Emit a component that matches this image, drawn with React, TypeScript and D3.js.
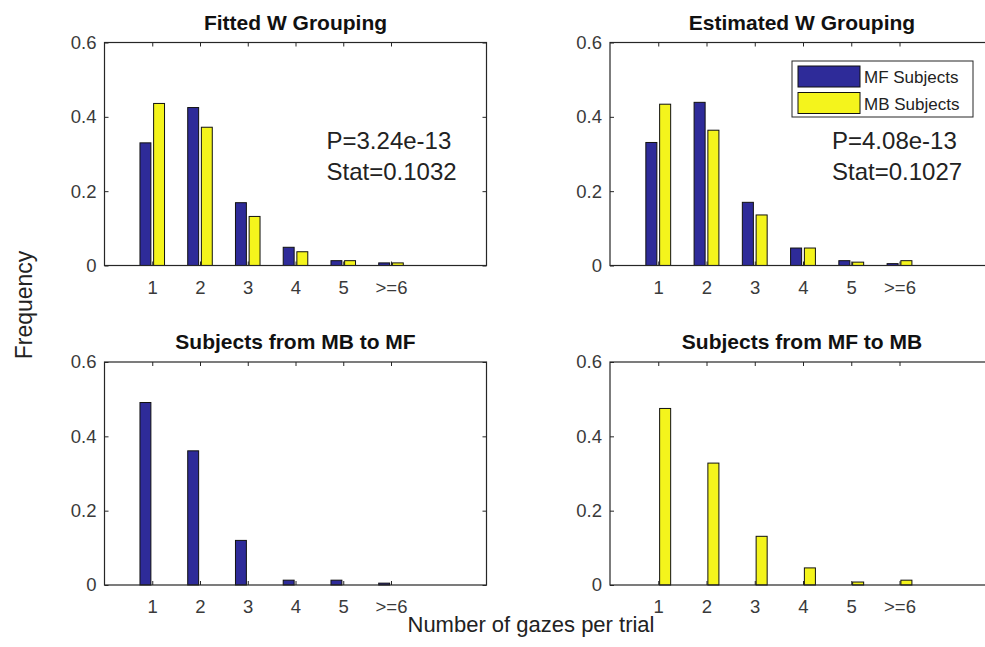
import React, { useEffect, useRef } from 'react'
import * as d3 from 'd3'

// gaze counts per trial
const categories = ['1', '2', '3', '4', '5', '>=6']
const seriesNames = ['MF Subjects', 'MB Subjects']
const yTicks = [0, 0.2, 0.4, 0.6]

const fittedMF = [0.330, 0.425, 0.169, 0.049, 0.013, 0.007]
const fittedMB = [0.436, 0.372, 0.132, 0.037, 0.013, 0.007]
const estimatedMF = [0.331, 0.439, 0.170, 0.047, 0.013, 0.005]
const estimatedMB = [0.434, 0.364, 0.136, 0.047, 0.009, 0.013]
const mbToMF = [0.491, 0.361, 0.120, 0.013, 0.013, 0.005]
const mbToMFOther = [0, 0, 0, 0, 0, 0]
const mfToMBOther = [0, 0, 0, 0, 0, 0]
const mfToMB = [0.475, 0.328, 0.131, 0.046, 0.008, 0.013]

const titles = ['Fitted W Grouping', 'Estimated W Grouping', 'Subjects from MB to MF', 'Subjects from MF to MB']
const stats = [['P=3.24e-13', 'Stat=0.1032'], ['P=4.08e-13', 'Stat=0.1027'], null, null]

const colors = ['#2e2b99', '#f4f41c']
const axisColor = '#262626'
const font = '"Liberation Sans", Arial, sans-serif'

export default function App() {
  const ref = useRef<SVGSVGElement>(null)

  useEffect(() => {
    const svg = d3.select(ref.current)
    svg.selectAll('*').remove()

    // right column runs off the picture edge
    const widths = [382, 386]
    const height = 223
    const lefts = [104.5, 610]
    const tops = [42.5, 362]
    const panelData = [
      [fittedMF, fittedMB],
      [estimatedMF, estimatedMB],
      [mbToMF, mbToMFOther],
      [mfToMBOther, mfToMB],
    ]

    const y = d3.scaleLinear().domain([0, 0.6]).range([height, 0])
    // offsets of the two bars within a group, in data units
    const inner = d3.scaleBand<string>().domain(seriesNames).range([-0.2857, 0.2857])
      .paddingInner(0.2).paddingOuter(0.1)

    panelData.forEach((series, p) => {
      const width = widths[p % 2]
      const x = d3.scaleLinear().domain([0, 8]).range([0, width])
      const g = svg.append('g')
        .attr('transform', `translate(${lefts[p % 2]},${tops[Math.floor(p / 2)]})`)

      series.forEach((values, s) => {
        g.append('g')
          .selectAll('rect')
          .data(values)
          .enter()
          .append('rect')
            .attr('x', (d, i) => x(i + 1 + (inner(seriesNames[s]) as number)))
            .attr('width', x(inner.bandwidth()) - x(0))
            .attr('y', d => y(d))
            .attr('height', d => height - y(d))
            .style('fill', colors[s])
            .style('stroke', '#111')
            .style('stroke-width', 1)
      })

      const tickIdx = categories.map((c, i) => i + 1)

      const bottom = g.append('g')
        .attr('transform', `translate(0,${height})`)
        .call(d3.axisBottom(x).tickValues(tickIdx).tickFormat(i => categories[+i - 1])
          .tickSizeInner(-4).tickSizeOuter(0).tickPadding(15))
      const top = g.append('g')
        .call(d3.axisTop(x).tickValues(tickIdx).tickFormat(() => '')
          .tickSizeInner(-4).tickSizeOuter(0))
      const left = g.append('g')
        .call(d3.axisLeft(y).tickValues(yTicks).tickFormat(d => d === 0 ? '0' : d3.format('.1f')(d as number))
          .tickSizeInner(-4).tickSizeOuter(0).tickPadding(8))
      const right = g.append('g')
        .attr('transform', `translate(${width},0)`)
        .call(d3.axisRight(y).tickValues(yTicks).tickFormat(() => '')
          .tickSizeInner(-4).tickSizeOuter(0))

      ;[bottom, top, left, right].forEach(a => {
        a.select('.domain').remove()
        a.selectAll('line').attr('stroke', axisColor)
        a.selectAll('text')
          .attr('fill', '#3a3a3a')
          .style('font-family', font)
          .style('font-size', '18.5px')
      })

      g.append('rect')
        .attr('width', width)
        .attr('height', height)
        .style('fill', 'none')
        .style('stroke', axisColor)
        .style('stroke-width', 1.2)

      g.append('text')
        .attr('x', p % 2 ? 192 : width / 2)
        .attr('y', -13)
        .attr('text-anchor', 'middle')
        .style('font-family', font)
        .style('font-weight', 'bold')
        .style('font-size', '21px')
        .style('fill', '#111')
        .text(titles[p])

      const st = stats[p]
      if (st) {
        st.forEach((line, k) => {
          g.append('text')
            .attr('x', 222)
            .attr('y', 106 + k * 31)
            .style('font-family', font)
            .style('font-size', '24px')
            .style('fill', '#222')
            .text(line)
        })
      }

      if (p === 1) {
        const lg = g.append('g').attr('transform', 'translate(182,18.5)')
        lg.append('rect')
          .attr('width', 181)
          .attr('height', 56)
          .style('fill', '#fff')
          .style('stroke', axisColor)
          .style('stroke-width', 1)
        seriesNames.forEach((name, s) => {
          lg.append('rect')
            .attr('x', 6)
            .attr('y', 5 + s * 26.5)
            .attr('width', 62)
            .attr('height', 21)
            .style('fill', colors[s])
            .style('stroke', '#111')
          lg.append('text')
            .attr('x', 72)
            .attr('y', 22 + s * 26.5)
            .style('font-family', font)
            .style('font-size', '17px')
            .style('fill', '#222')
            .text(name)
        })
      }
    })

    svg.append('text')
      .attr('transform', 'translate(32,305) rotate(-90)')
      .attr('text-anchor', 'middle')
      .style('font-family', font)
      .style('font-size', '23px')
      .style('fill', '#222')
      .text('Frequency')

    svg.append('text')
      .attr('x', 531)
      .attr('y', 632)
      .attr('text-anchor', 'middle')
      .style('font-family', font)
      .style('font-size', '22px')
      .style('fill', '#222')
      .text('Number of gazes per trial')
  }, [])

  return (
    <div>
      <svg ref={ref} width={985} height={647}
        style={{ position: 'absolute', left: 0, top: 0, background: '#fff' }} />
    </div>
  )
}
